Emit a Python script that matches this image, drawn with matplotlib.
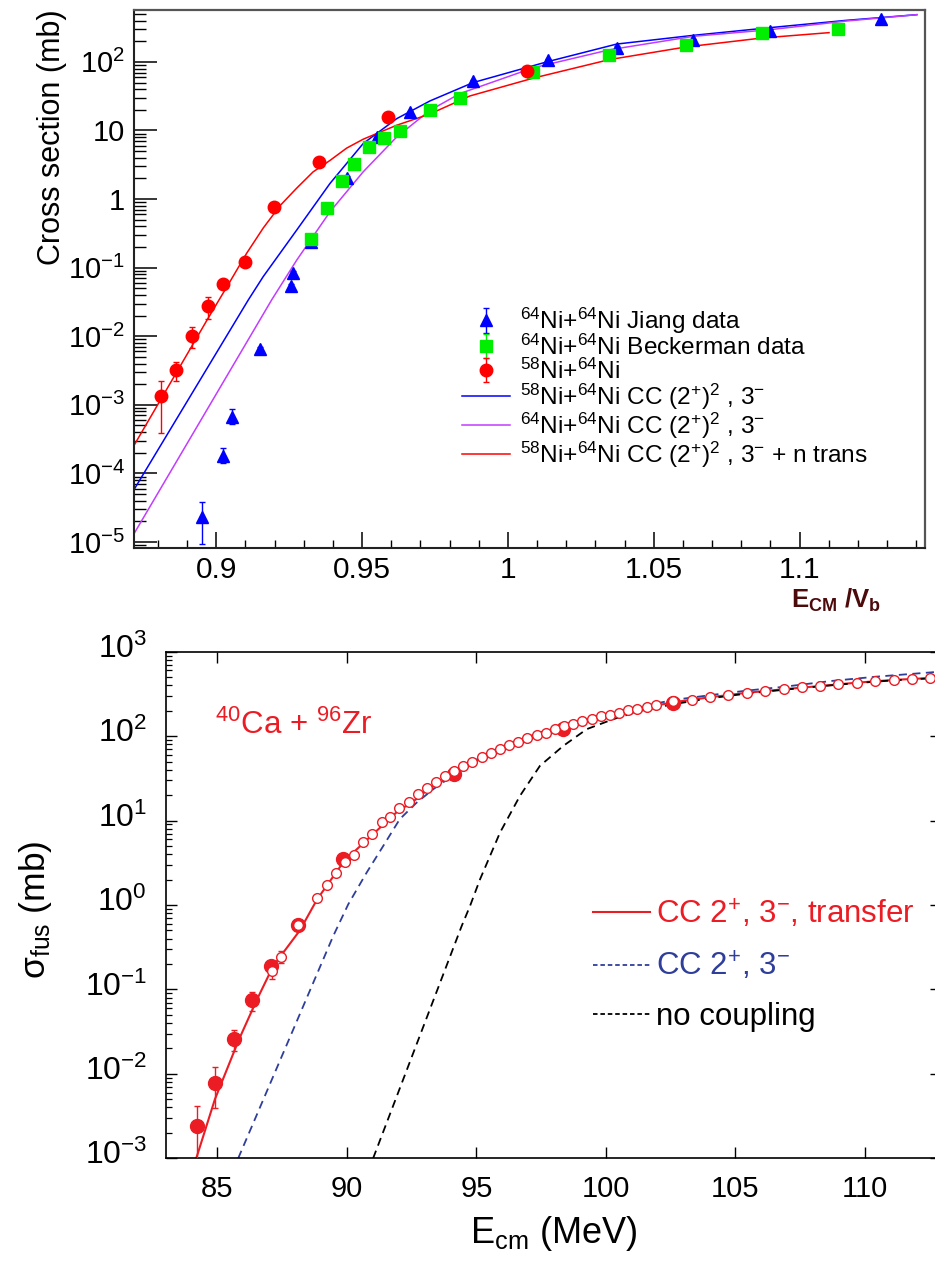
import numpy as np
import matplotlib
matplotlib.use('Agg')
import matplotlib.pyplot as plt
from matplotlib.lines import Line2D
from matplotlib.ticker import LogLocator, MultipleLocator, NullFormatter
from matplotlib.transforms import ScaledTranslation

plt.rcParams['font.family'] = ['Liberation Sans', 'DejaVu Sans']
plt.rcParams['mathtext.fontset'] = 'custom'
plt.rcParams['mathtext.rm'] = 'Liberation Sans'
plt.rcParams['mathtext.it'] = 'Liberation Sans:italic'
plt.rcParams['mathtext.bf'] = 'Liberation Sans:bold'
plt.rcParams['mathtext.sf'] = 'Liberation Sans'

# ---------------- upper panel: Ni + Ni, E_CM / V_b ----------------
jiang_x = [0.8952, 0.9024, 0.9055, 0.9150, 0.9255, 0.9262, 0.9326, 0.9450,
           0.9552, 0.9664, 0.9882, 1.0139, 1.0375, 1.0636, 1.0899, 1.1280]
jiang_y = [2.33e-5, 1.82e-4, 6.56e-4, 6.5e-3, 0.054, 0.0846, 0.24, 2.05,
           8.0, 18.3, 52, 105, 162, 207, 286, 417]
jiang_lo = [9.4e-6, 1.44e-4, 5.31e-4, 6.0e-3, 0.050, 0.079, 0.20, 1.9,
            7.5, 17.2, 49, 99, 153, 196, 271, 396]
jiang_hi = [3.89e-5, 2.32e-4, 8.57e-4, 7.0e-3, 0.058, 0.090, 0.28, 2.2,
            8.5, 19.4, 55, 111, 171, 218, 301, 438]

beck_x = [0.9326, 0.9379, 0.9432, 0.9472, 0.9525, 0.9576, 0.9629, 0.9733,
          0.9837, 1.0087, 1.0348, 1.0610, 1.0871, 1.1130]
beck_y = [0.262, 0.73, 1.83, 3.3, 5.77, 7.7, 9.9, 19.7, 29.9, 72, 128, 176, 267, 298]
beck_err = [0.05, 0.04, 0.08, 0.15, 0.25, 0.3, 0.4, 0.8, 1.2, 3, 5, 7, 10, 12]

ni58_x = [0.8811, 0.8863, 0.8917, 0.8972, 0.9024, 0.9098, 0.9199, 0.9353, 0.9589, 1.0064]
ni58_y = [1.33e-3, 3.2e-3, 0.0102, 0.0277, 0.058, 0.12, 0.77, 3.42, 15.5, 74.5]
ni58_lo = [3.9e-4, 2.26e-3, 6.85e-3, 0.0179, 0.050, 0.11, 0.71, 3.2, 14.6, 70]
ni58_hi = [2.24e-3, 4.2e-3, 0.0138, 0.037, 0.066, 0.13, 0.83, 3.65, 16.4, 79]

# coupled-channels calculations
cc58_x = [0.8718, 0.9110, 0.9161, 0.9276, 0.9390, 0.9504, 0.9619, 0.9733,
          0.9881, 1.0133, 1.0373, 1.0636, 1.0899, 1.1159, 1.1402]
cc58_y = [5.8e-5, 0.0339, 0.074, 0.354, 1.69, 6.47, 14.9, 27, 50, 100, 182,
          244, 316, 403, 488]
cc64_x = [0.8718, 0.9190, 0.9276, 0.9390, 0.9504, 0.9619, 0.9733, 0.9836,
          1.0087, 1.0348, 1.0636, 1.0899, 1.1159, 1.1402]
cc64_y = [1.32e-5, 0.0339, 0.129, 0.653, 2.5, 8.07, 19.7, 34.6, 82, 150,
          236, 295, 394, 488]
ccn_x = [0.8718, 0.8972, 0.9047, 0.9104, 0.9161, 0.9219, 0.9276, 0.9332,
         0.9390, 0.9447, 0.9504, 0.9619, 0.9733, 0.9870, 1.0087, 1.0348,
         1.0610, 1.0871, 1.1101]
ccn_y = [2.56e-4, 0.0183, 0.0625, 0.1615, 0.378, 0.804, 1.446, 2.49,
         3.66, 5.53, 7.47, 11.94, 17.44, 31.9, 58, 108, 165, 223, 267]

top_yticks = [1e-5, 1e-4, 1e-3, 1e-2, 1e-1, 1, 10, 100]
top_ylabels = [r'$10^{-5}$', r'$10^{-4}$', r'$10^{-3}$', r'$10^{-2}$',
               r'$10^{-1}$', '1', '10', r'$10^{2}$']
top_xticks = [0.9, 0.95, 1.0, 1.05, 1.1]
top_xlabels = ['0.9', '0.95', '1', '1.05', '1.1']

# ---------------- lower panel: 40Ca + 96Zr ----------------
fus_E = [84.21, 84.92, 85.64, 86.34, 87.05, 88.11, 89.85, 94.13, 98.35, 102.6]
fus_sig = [2.41e-3, 7.9e-3, 0.0256, 0.0743, 0.189, 0.58, 3.55, 35.4, 121, 250]
fus_lo = [5e-4, 3.97e-3, 0.0187, 0.0554, 0.165, 0.53, 3.3, 33, 113, 235]
fus_hi = [4.2e-3, 0.0121, 0.0334, 0.093, 0.215, 0.63, 3.8, 38, 129, 265]

open_E = [87.09, 87.45, 88.11, 88.85, 89.21, 89.56, 89.92, 90.27, 90.63, 90.97,
          91.34, 91.68, 92.02, 92.38, 92.73, 93.10, 93.44, 93.79, 94.13, 94.49,
          94.84, 95.20, 95.56, 95.91, 96.27, 96.62, 96.96, 97.33, 97.69, 98.03,
          98.39, 98.74, 99.09, 99.45, 99.80, 100.16, 100.51, 100.87, 101.21,
          101.58, 101.92, 102.60, 103.31, 104.02, 104.73, 105.44, 106.15,
          106.86, 107.57, 108.27, 108.98, 109.69, 110.40, 111.11, 111.82, 112.52]
open_sig = [0.165, 0.245, 0.58, 1.2, 1.73, 2.37, 3.23, 3.96, 5.58, 6.88,
            9.6, 11.1, 13.9, 16.8, 20.5, 24.2, 28.7, 33.8, 38.4, 44.4,
            50, 56.7, 62.7, 70, 78.7, 85.4, 94.4, 102, 110, 121,
            132, 138, 151, 159, 171, 180, 190, 203, 212,
            224, 232, 261, 268, 289, 305, 328, 343,
            363, 383, 393, 412, 431, 447, 464, 476, 489]
open_lo = [0.132, 0.207]
open_hi = [0.198, 0.285]

trans_E = [84.18, 84.9, 85.83, 86.51, 87.15, 88.18, 88.85, 89.85, 90.24, 92.04,
           92.43, 93.1, 94.13, 95.2, 96.27, 97.33, 98.4, 99.45, 100.5, 101.6,
           102.6, 104.0, 105.4, 106.9, 108.3, 109.7, 111.1, 112.9]
trans_sig = [1e-3, 5e-3, 0.0256, 0.0743, 0.189, 0.5, 1.17, 3.18, 4.17, 13.6,
             15.6, 23, 35, 55, 77, 100, 128, 157, 187, 220,
             252, 288, 325, 360, 393, 430, 463, 495]
cc_E = [85.8, 89.47, 90.05, 90.76, 91.4, 92.04, 92.69, 93.33, 93.98, 95.2,
        96.27, 97.33, 98.35, 99.45, 100.5, 101.6, 102.6, 104.0, 105.4, 106.9,
        108.7, 110.4, 112.9]
cc_sig = [1e-3, 0.43, 1.02, 2.42, 5.0, 10.4, 16.3, 23.5, 32.3, 58,
          82, 107, 137, 166, 197, 232, 268, 305, 345, 385,
          450, 505, 580]
nc_E = [91.01, 94.43, 94.75, 95.14, 95.91, 96.68, 97.45, 98.35, 99.26, 100.29,
        101.32, 102.6, 104.0, 105.4, 106.9, 108.3, 109.7, 111.1, 112.9]
nc_sig = [1e-3, 0.564, 0.97, 2.02, 7.2, 19.6, 44.4, 76.5, 121, 159,
          199, 239, 280, 318, 355, 390, 425, 458, 490]

bot_yticks = [1e-3, 1e-2, 1e-1, 1, 10, 100, 1000]
bot_ylabels = [r'10$^{-3}$', r'10$^{-2}$', r'10$^{-1}$', r'10$^{0}$',
               r'10$^{1}$', r'10$^{2}$', r'10$^{3}$']
bot_xticks = [85, 90, 95, 100, 105, 110]

W, H = 935.0, 1264.0
fig = plt.figure(figsize=(W / 100, H / 100), dpi=100)

# ---- upper panel ----
ax1 = fig.add_axes([134 / W, 1 - 547.7 / H, (925 - 134) / W, (547.7 - 10) / H])
l_blue, = ax1.plot(cc58_x, cc58_y, color='#0000ff', lw=1.1)
l_mag, = ax1.plot(cc64_x, cc64_y, color='#c23cff', lw=1.1)
l_red, = ax1.plot(ccn_x, ccn_y, color='#ff0000', lw=1.1)

jiang = ax1.errorbar(jiang_x, jiang_y,
                     yerr=[np.subtract(jiang_y, jiang_lo), np.subtract(jiang_hi, jiang_y)],
                     fmt='^', color='#0000ff', ms=9, capsize=2.4, elinewidth=1, capthick=1)
beck = ax1.errorbar(beck_x, beck_y, yerr=beck_err, fmt='s', color='#00ee00', ms=8.5,
                    capsize=2.4, elinewidth=1, capthick=1)
ni58 = ax1.errorbar(ni58_x, ni58_y,
                    yerr=[np.subtract(ni58_y, ni58_lo), np.subtract(ni58_hi, ni58_y)],
                    fmt='o', color='#ff0000', ms=9, capsize=2.4, elinewidth=1, capthick=1)

ax1.set_yscale('log')
ax1.set_xlim(0.8718, 1.143)
ax1.set_ylim(8.26e-6, 571)
ax1.set_yticks(top_yticks)
ax1.set_yticklabels(top_ylabels)
ax1.yaxis.set_minor_locator(LogLocator(base=10, subs=np.arange(2, 10), numticks=20))
ax1.yaxis.set_minor_formatter(NullFormatter())
ax1.set_xticks(top_xticks)
ax1.set_xticklabels(top_xlabels)
ax1.xaxis.set_minor_locator(MultipleLocator(0.01))
ax1.tick_params(axis='y', which='major', direction='in', length=16.6, width=1.1,
                labelsize=21, pad=6.5)
ax1.tick_params(axis='y', which='minor', direction='in', length=8.6, width=1.0)
ax1.tick_params(axis='x', which='major', direction='in', length=11.5, width=1.1,
                labelsize=21.5, pad=6)
ax1.tick_params(axis='x', which='minor', direction='in', length=5.8, width=1.0)
for side in ['left', 'bottom']:
    ax1.spines[side].set_linewidth(1.5)
    ax1.spines[side].set_color('#222222')
for side in ['top', 'right']:
    ax1.spines[side].set_linewidth(1.6)
    ax1.spines[side].set_color('#555555')

ax1.legend([jiang, beck, ni58, l_blue, l_mag, l_red],
           [r'$^{64}$Ni+$^{64}$Ni Jiang data',
            r'$^{64}$Ni+$^{64}$Ni Beckerman data',
            r'$^{58}$Ni+$^{64}$Ni',
            r'$^{58}$Ni+$^{64}$Ni CC (2$^{+}$)$^{2}$ , 3$^{-}$',
            r'$^{64}$Ni+$^{64}$Ni CC (2$^{+}$)$^{2}$ , 3$^{-}$',
            r'$^{58}$Ni+$^{64}$Ni CC (2$^{+}$)$^{2}$ , 3$^{-}$ + n trans'],
           loc='upper left', bbox_to_anchor=(0.4147, 0.450), frameon=False,
           fontsize=17.6, borderpad=0, borderaxespad=0, handlelength=1.97,
           handletextpad=0.41, labelspacing=-0.06)

fig.text(52 / W, 1 - 137.5 / H, 'Cross section (mb)', rotation=90,
         ha='center', va='center', fontsize=22)
fig.text(836 / W, 1 - 600 / H, r'E$_{\mathbf{CM}}$ $\mathbf{/V_{b}}$',
         ha='center', va='center', fontsize=18.5, weight='bold', color='#4d0a0a')

# ---- lower panel ----
red = '#ec1c24'
blue = '#2f3e9a'
ax2 = fig.add_axes([165.7 / W, 1 - 1158.3 / H, (941 - 165.7) / W, (1158.3 - 651.7) / H])
ax2.plot(trans_E, trans_sig, color=red, lw=1.5, zorder=2)
ax2.plot(cc_E, cc_sig, color=blue, lw=1.3, dashes=(4.5, 3), zorder=2)
ax2.plot(nc_E, nc_sig, color='black', lw=1.3, dashes=(4.5, 3), zorder=2)

ax2.errorbar(fus_E, fus_sig,
             yerr=[np.subtract(fus_sig, fus_lo), np.subtract(fus_hi, fus_sig)],
             fmt='o', color=red, ms=10, capsize=2.5, elinewidth=1, capthick=1, zorder=3)
ax2.errorbar(open_E[:2], open_sig[:2],
             yerr=[np.subtract(open_sig[:2], open_lo), np.subtract(open_hi, open_sig[:2])],
             fmt='none', ecolor=red, capsize=2.5, elinewidth=1, capthick=1, zorder=3)
ax2.plot(open_E, open_sig, 'o', ms=7, mfc='white', mec=red, mew=1.0, zorder=4)

ax2.set_yscale('log')
ax2.set_xlim(83, 112.94)
ax2.set_ylim(1e-3, 1e3)
ax2.set_yticks(bot_yticks)
ax2.set_yticklabels(bot_ylabels)
ax2.yaxis.set_minor_locator(LogLocator(base=10, subs=np.arange(2, 10), numticks=20))
ax2.yaxis.set_minor_formatter(NullFormatter())
ax2.set_xticks(bot_xticks)
ax2.set_xticklabels([str(v) for v in bot_xticks])
ax2.tick_params(axis='both', which='major', direction='in', length=8, width=1.0,
                top=True, right=True)
ax2.tick_params(axis='y', which='minor', direction='in', length=4.3, width=0.9, right=True)
ax2.tick_params(axis='y', which='major', labelsize=23, pad=13.5)
ax2.tick_params(axis='x', which='major', labelsize=21, pad=12)
for side in ax2.spines:
    ax2.spines[side].set_linewidth(1.2)
for lab in ax2.get_yticklabels():
    lab.set_transform(lab.get_transform() + ScaledTranslation(0, 4.3 / 72, fig.dpi_scale_trans))

ax2.text(84.9, 105, r'$^{40}$Ca + $^{96}$Zr', color=red, fontsize=22.5,
         ha='left', va='baseline')

ax2.legend([Line2D([], [], color=red, lw=1.5),
            Line2D([], [], color=blue, lw=1.3, dashes=(2.5, 1.6)),
            Line2D([], [], color='black', lw=1.3, dashes=(2.5, 1.6))],
           [r'CC 2$^{+}$, 3$^{-}$, transfer', r'CC 2$^{+}$, 3$^{-}$', 'no coupling'],
           loc='upper left', bbox_to_anchor=(0.5515, 0.516), frameon=False,
           fontsize=22.5, borderpad=0, borderaxespad=0, handlelength=1.8,
           handletextpad=0.2, labelspacing=0.62, labelcolor='linecolor')

fig.text(554 / W, 1 - 1243.3 / H, r'E$_{\mathrm{cm}}$ (MeV)', ha='center',
         va='baseline', fontsize=26)
fig.text(36 / W, 1 - 910 / H, r'$\mathrm{\sigma}_{\mathrm{fus}}$ (mb)', rotation=90,
         ha='center', va='center', fontsize=25.5)

fig.savefig('out.png', dpi=100)
